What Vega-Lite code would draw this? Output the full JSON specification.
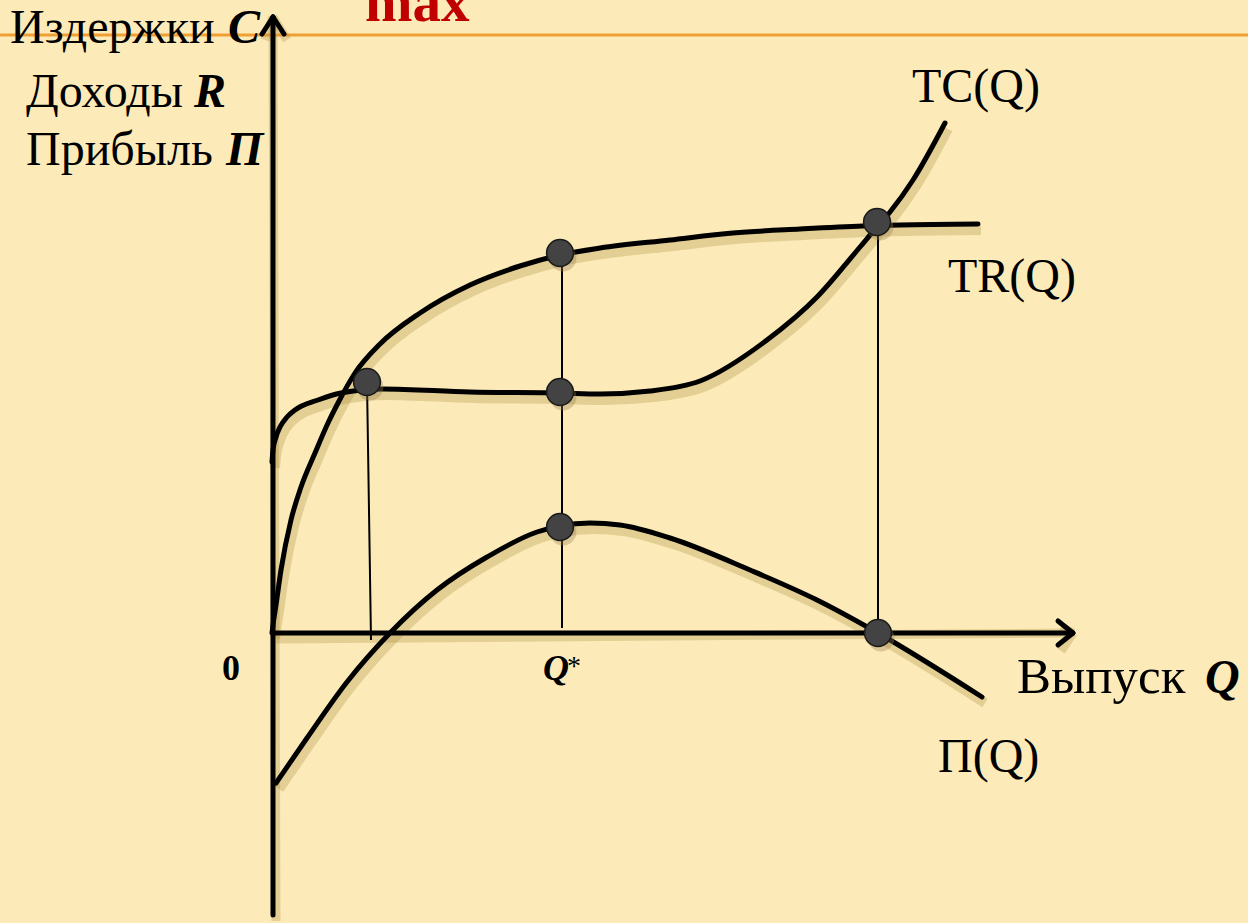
{
  "$schema": "https://vega.github.io/schema/vega-lite/v6.json",
  "width": 1248,
  "height": 923,
  "padding": 0,
  "autosize": {"type": "none"},
  "background": "#fcebb8",
  "view": {"stroke": null},
  "config": {"text": {"font": "Liberation Serif", "baseline": "alphabetic", "align": "left", "color": "#000000"}},
  "datasets": {
    "curves": [
      {"c": "TR", "q": 0, "v": 0}, {"c": "TR", "q": 0.1, "v": 0.8}, {"c": "TR", "q": 0.4, "v": 2.8}, {"c": "TR", "q": 0.9, "v": 6.3},
      {"c": "TR", "q": 1.9, "v": 11.3}, {"c": "TR", "q": 2.9, "v": 14.6}, {"c": "TR", "q": 4.3, "v": 18.0}, {"c": "TR", "q": 5.6, "v": 21.0},
      {"c": "TR", "q": 6.6, "v": 23.0}, {"c": "TR", "q": 8.3, "v": 26.0}, {"c": "TR", "q": 10.8, "v": 28.9},
      {"c": "TR", "q": 14.8, "v": 32.0}, {"c": "TR", "q": 19.8, "v": 34.8}, {"c": "TR", "q": 24.8, "v": 36.7}, {"c": "TR", "q": 28.8, "v": 37.8},
      {"c": "TR", "q": 32.8, "v": 38.5}, {"c": "TR", "q": 39.8, "v": 39.3}, {"c": "TR", "q": 46.1, "v": 40.0}, {"c": "TR", "q": 52.8, "v": 40.4},
      {"c": "TR", "q": 59.1, "v": 40.7}, {"c": "TR", "q": 62.8, "v": 40.8}, {"c": "TR", "q": 70.6, "v": 40.9},
      {"c": "TC", "q": 0, "v": 17.1}, {"c": "TC", "q": 0.1, "v": 18.3}, {"c": "TC", "q": 0.4, "v": 19.6}, {"c": "TC", "q": 0.8, "v": 20.6},
      {"c": "TC", "q": 1.5, "v": 21.6}, {"c": "TC", "q": 2.3, "v": 22.3}, {"c": "TC", "q": 4.6, "v": 23.3}, {"c": "TC", "q": 6.9, "v": 24.0},
      {"c": "TC", "q": 11.1, "v": 24.4}, {"c": "TC", "q": 19.8, "v": 24.1}, {"c": "TC", "q": 28.8, "v": 24.0}, {"c": "TC", "q": 32.8, "v": 23.9},
      {"c": "TC", "q": 37.8, "v": 24.2}, {"c": "TC", "q": 42.8, "v": 25.2}, {"c": "TC", "q": 49.5, "v": 29.3}, {"c": "TC", "q": 54.5, "v": 33.6},
      {"c": "TC", "q": 58.8, "v": 38.6}, {"c": "TC", "q": 60.4, "v": 40.5}, {"c": "TC", "q": 61.8, "v": 42.1}, {"c": "TC", "q": 64.1, "v": 45.3},
      {"c": "TC", "q": 67.3, "v": 51.0},
      {"c": "P", "q": 0.4, "v": -15.0}, {"c": "P", "q": 3.5, "v": -10.5}, {"c": "P", "q": 7.5, "v": -4.9},
      {"c": "P", "q": 11.8, "v": 0}, {"c": "P", "q": 16.5, "v": 4.3}, {"c": "P", "q": 21.5, "v": 7.6}, {"c": "P", "q": 26.5, "v": 10.1},
      {"c": "P", "q": 28.8, "v": 10.7}, {"c": "P", "q": 31.8, "v": 11.0}, {"c": "P", "q": 34.8, "v": 10.8}, {"c": "P", "q": 39.8, "v": 9.5},
      {"c": "P", "q": 47.8, "v": 6.3}, {"c": "P", "q": 54.5, "v": 3.3}, {"c": "P", "q": 60.6, "v": 0}, {"c": "P", "q": 71.0, "v": -6.4}
    ],
    "axes": [
      {"q": 0.1, "v": -28.2, "q2": 0.1, "v2": 61.6},
      {"q": 0.1, "v": 0, "q2": 80.0, "v2": 0},
      {"q": -1.0, "v": 59.9, "q2": 0.1, "v2": 61.6},
      {"q": 1.2, "v": 59.9, "q2": 0.1, "v2": 61.6},
      {"q": 78.6, "v": 1.2, "q2": 80.1, "v2": 0},
      {"q": 78.6, "v": -1.2, "q2": 80.1, "v2": 0}
    ],
    "drops": [
      {"q": 9.5, "v": 25.1, "q2": 9.9, "v2": -0.7},
      {"q": 29.0, "v": 38.0, "q2": 29.0, "v2": 0.5},
      {"q": 60.6, "v": 41.1, "q2": 60.6, "v2": 0}
    ],
    "dots": [
      {"q": 9.5, "v": 25.1}, {"q": 28.8, "v": 38.0}, {"q": 28.8, "v": 24.1},
      {"q": 28.8, "v": 10.6}, {"q": 60.5, "v": 41.1}, {"q": 60.6, "v": 0}
    ],
    "band": [{"q": -27.2, "v": 59.8}, {"q": 97.6, "v": 59.8}],
    "reg": [
      {"t": "Издержки", "q": -26.2, "v": 59.0},
      {"t": "Доходы", "q": -24.6, "v": 52.6},
      {"t": "Прибыль", "q": -24.6, "v": 46.8},
      {"t": "TC(Q)", "q": 64.0, "v": 53.1},
      {"t": "TR(Q)", "q": 67.6, "v": 34.1},
      {"t": "П(Q)", "q": 66.6, "v": -13.9}
    ],
    "xlab": [{"t": "Выпуск", "q": 74.5, "v": -6.0}],
    "bi": [
      {"t": "C", "q": -4.4, "v": 59.0},
      {"t": "R", "q": -7.8, "v": 52.6},
      {"t": "П", "q": -4.6, "v": 46.8},
      {"t": "Q", "q": 93.3, "v": -6.0}
    ],
    "qstar": [{"t": "Q", "q": 27.1, "v": -4.7}],
    "star": [{"t": "*", "q": 29.5, "v": -4.2}],
    "zero": [{"t": "0", "q": -5.0, "v": -4.7}],
    "title": [{"t": "max", "q": 9.3, "v": 61.2}]
  },
  "encoding": {
    "x": {"field": "q", "type": "quantitative", "scale": {"domain": [-27.2, 97.6], "nice": false, "zero": false}, "axis": null},
    "y": {"field": "v", "type": "quantitative", "scale": {"domain": [-29.0, 63.3], "nice": false, "zero": false}, "axis": null}
  },
  "layer": [
    {"data": {"name": "band"}, "mark": {"type": "line", "color": "#efa035", "strokeWidth": 3}, "encoding": {}},
    {"data": {"name": "curves"}, "mark": {"type": "line", "interpolate": "monotone", "color": "#a88a40", "opacity": 0.3, "strokeWidth": 10, "xOffset": 3, "yOffset": 6}, "encoding": {"detail": {"field": "c"}}},
    {"data": {"name": "axes"}, "mark": {"type": "rule", "color": "#a88a40", "opacity": 0.3, "strokeWidth": 9, "xOffset": 3, "yOffset": 6}, "encoding": {"x2": {"field": "q2"}, "y2": {"field": "v2"}}},
    {"data": {"name": "drops"}, "mark": {"type": "rule", "color": "#000000", "strokeWidth": 2}, "encoding": {"x2": {"field": "q2"}, "y2": {"field": "v2"}}},
    {"data": {"name": "axes"}, "mark": {"type": "rule", "color": "#000000", "strokeWidth": 5, "strokeCap": "round"}, "encoding": {"x2": {"field": "q2"}, "y2": {"field": "v2"}}},
    {"data": {"name": "curves"}, "mark": {"type": "line", "interpolate": "monotone", "color": "#000000", "strokeWidth": 5, "strokeCap": "round"}, "encoding": {"detail": {"field": "c"}}},
    {"data": {"name": "dots"}, "mark": {"type": "point", "filled": true, "size": 720, "fill": "#9a8050", "opacity": 0.35, "xOffset": 3, "yOffset": 5}, "encoding": {}},
    {"data": {"name": "dots"}, "mark": {"type": "point", "filled": true, "size": 720, "fill": "#434343", "stroke": "#1a1a1a", "strokeWidth": 1.5, "opacity": 1}, "encoding": {}},
    {"data": {"name": "reg"}, "mark": {"type": "text", "fontSize": 48}, "encoding": {"text": {"field": "t"}}},
    {"data": {"name": "xlab"}, "mark": {"type": "text", "fontSize": 51}, "encoding": {"text": {"field": "t"}}},
    {"data": {"name": "bi"}, "mark": {"type": "text", "fontSize": 48, "fontWeight": "bold", "fontStyle": "italic"}, "encoding": {"text": {"field": "t"}}},
    {"data": {"name": "qstar"}, "mark": {"type": "text", "fontSize": 36, "fontWeight": "bold", "fontStyle": "italic"}, "encoding": {"text": {"field": "t"}}},
    {"data": {"name": "star"}, "mark": {"type": "text", "fontSize": 28}, "encoding": {"text": {"field": "t"}}},
    {"data": {"name": "zero"}, "mark": {"type": "text", "fontSize": 36, "fontWeight": "bold"}, "encoding": {"text": {"field": "t"}}},
    {"data": {"name": "title"}, "mark": {"type": "text", "fontSize": 57, "fontWeight": "bold", "color": "#c00000"}, "encoding": {"text": {"field": "t"}}}
  ]
}
